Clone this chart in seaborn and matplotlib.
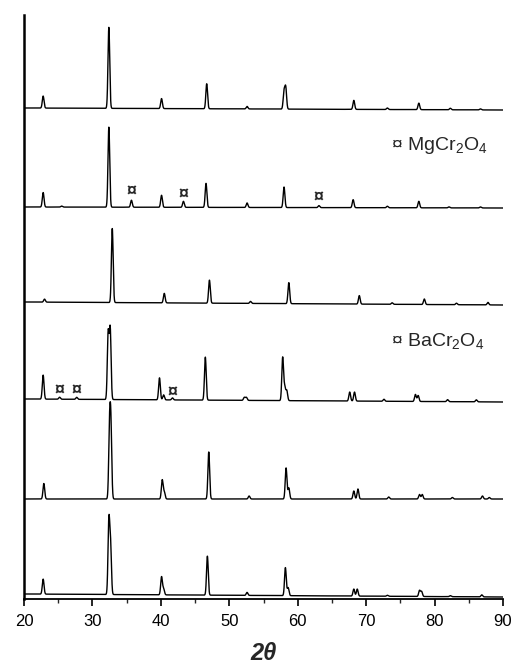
import numpy as np
import pandas as pd
import matplotlib
matplotlib.use("Agg")
import matplotlib.pyplot as plt
import seaborn as sns

# ---- data (2-theta positions, peak heights, baselines) ----
t1_pos = [22.8, 32.4, 40.1, 46.7, 52.6, 58.0, 58.25, 68.2, 73.1, 77.7, 82.3, 86.7]
t1_h = [12, 81, 10, 25, 2.5, 17, 21, 9, 1.5, 6.5, 1.5, 1]
t2_pos = [22.8, 25.5, 32.4, 35.7, 40.1, 43.3, 46.6, 52.6, 58.0, 63.1, 68.1, 73.1, 77.7, 82.1, 86.7]
t2_h = [14.5, 1, 80, 7, 12, 6, 24, 4.5, 20.5, 2, 8, 1.5, 6.5, 1, 1]
t3_pos = [23.0, 32.9, 40.5, 47.1, 53.1, 58.7, 69.0, 73.8, 78.5, 83.2, 87.8]
t3_h = [3, 74, 9.5, 23, 2, 21, 8.5, 1.5, 5.5, 1.5, 2.5]
t4_pos = [22.8, 25.2, 27.7, 32.3, 32.6, 39.8, 40.4, 41.7, 46.5, 52.2, 52.5, 57.8, 58.1, 58.4,
          67.6, 68.3, 72.6, 77.2, 77.6, 81.9, 86.1]
t4_h = [24, 2, 2, 66, 70, 22, 5, 2, 43, 3, 3, 43, 13, 10, 9, 9, 2, 7, 6, 2, 2]
t5_pos = [22.9, 32.5, 32.7, 40.2, 40.5, 47.0, 52.9, 58.3, 58.7, 68.2, 68.8, 73.3, 77.8, 78.2,
          82.6, 87.0, 88.0]
t5_h = [15.5, 66, 68, 19, 7, 47, 3, 31, 11, 8, 10, 2, 4.5, 4.5, 1.5, 3, 1.5]
t6_pos = [22.8, 32.4, 32.65, 40.1, 40.4, 46.8, 52.6, 58.2, 58.6, 68.2, 68.7, 73.1, 77.8, 78.1,
          82.3, 86.9]
t6_h = [15, 72, 48, 18, 6, 39, 3, 28, 8, 7, 7, 1, 6, 5, 1, 2]

trace_pos = [t1_pos, t2_pos, t3_pos, t4_pos, t5_pos, t6_pos]
trace_h = [t1_h, t2_h, t3_h, t4_h, t5_h, t6_h]
base_start = [491, 392, 297, 200, 100, 5]
base_end = [489, 391, 294, 197, 100, 2]

mg_marker_x = [35.7, 43.3, 63.1]
mg_marker_y = [407, 404, 401]
ba_marker_x = [25.2, 27.7, 41.7]
ba_marker_y = [208, 208, 206]

xticks = [20, 30, 40, 50, 60, 70, 80, 90]

# ---- build long table ----
x = np.arange(20.0, 90.0001, 0.01)
sigma = 0.125
rows = []
for i, (pos, hts) in enumerate(zip(trace_pos, trace_h)):
    y = base_start[i] + (base_end[i] - base_start[i]) * (x - 20) / 70.0
    for p, h in zip(pos, hts):
        y = y + h * np.exp(-0.5 * ((x - p) / sigma) ** 2)
    rows.append(pd.DataFrame({"two_theta": x, "intensity": y, "trace": f"t{i+1}"}))
df = pd.concat(rows, ignore_index=True)

sns.set_theme(style="white")
plt.rcParams["font.family"] = ["Liberation Sans", "DejaVu Sans"]
plt.rcParams["mathtext.fontset"] = "custom"
plt.rcParams["mathtext.rm"] = "Liberation Sans"
plt.rcParams["mathtext.it"] = "Liberation Sans:italic"
plt.rcParams["mathtext.bf"] = "Liberation Sans:bold"

fig = plt.figure(figsize=(5.12, 6.71), dpi=100)
ax = fig.add_axes([24 / 512, 1 - 599 / 671, (503 - 24) / 512, (599 - 15) / 671])

sns.lineplot(data=df, x="two_theta", y="intensity", hue="trace", units="trace",
             estimator=None, palette=["black"] * 6, legend=False, linewidth=1.0, ax=ax, sort=False)

for mx, my in zip(mg_marker_x, mg_marker_y):
    ax.text(mx, my, "¤", ha="center", va="center", fontsize=13, fontweight="bold")
for mx, my in zip(ba_marker_x, ba_marker_y):
    ax.text(mx, my, "¤", ha="center", va="center", fontsize=13, fontweight="bold")

ax.text(73.6, 449, "¤ MgCr$_2$O$_4$", ha="left", va="baseline", fontsize=14)
ax.text(73.6, 253, "¤ BaCr$_2$O$_4$", ha="left", va="baseline", fontsize=14)

ax.set_xlim(20, 90)
ax.set_ylim(0, 584)
ax.set_xticks(xticks)
ax.set_xticks(np.arange(25, 90, 10), minor=True)
ax.set_yticks([])
ax.tick_params(axis="x", which="major", direction="out", length=5, width=1.2,
               labelsize=12, pad=6, bottom=True, colors="black")
ax.tick_params(axis="x", which="minor", direction="out", length=3, width=1.0, bottom=True)
ax.set_xlabel("2θ", fontsize=17, fontweight="bold", fontstyle="italic", labelpad=9)
ax.set_ylabel("")
for s in ["top", "right"]:
    ax.spines[s].set_visible(False)
ax.spines["left"].set_linewidth(1.8)
ax.spines["bottom"].set_linewidth(1.3)
ax.spines["left"].set_color("black")
ax.spines["bottom"].set_color("black")

fig.savefig("out.png", dpi=100)
